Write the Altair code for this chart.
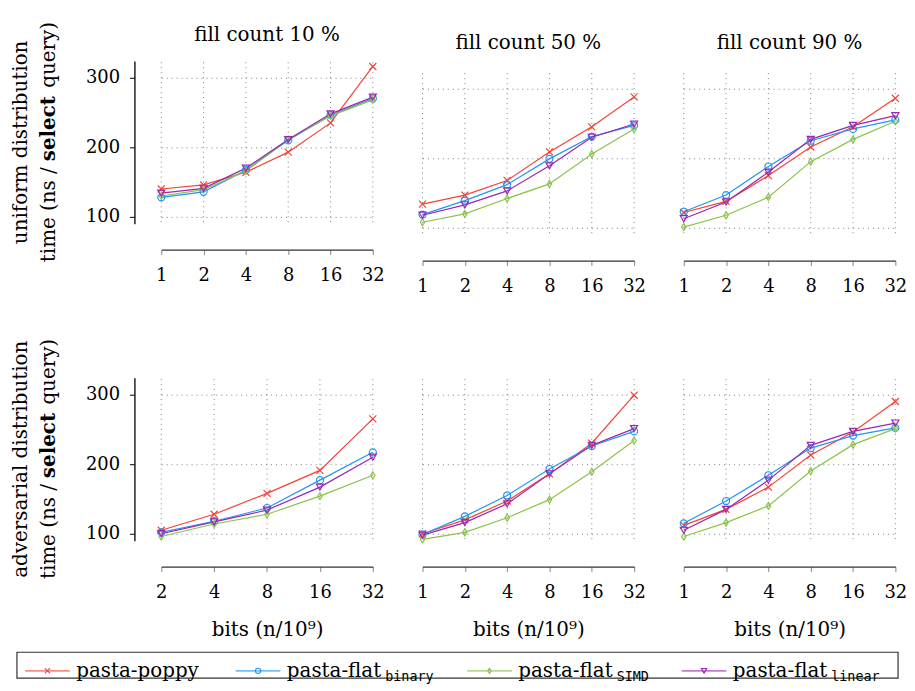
import altair as alt
import pandas as pd

SERIES = ["pasta-poppy", "pasta-flat_binary", "pasta-flat_SIMD", "pasta-flat_linear"]
LEG_MAIN = ["pasta-poppy", "pasta-flat", "pasta-flat", "pasta-flat"]
LEG_SUB = ["", "binary", "SIMD", "linear"]
COLORS = ["#f44336", "#2196f3", "#8bc34a", "#9c27b0"]
SHAPES = ["M-1,-1L1,1M-1,1L1,-1", "circle", "M0,-1L0.62,0L0,1L-0.62,0Z", "triangle-down"]

BITS_FULL = [1, 2, 4, 8, 16, 32]
BITS_ADV10 = [2, 4, 8, 16, 32]
Y_TICKS = [100, 200, 300]

# uniform distribution
UNI_10_POPPY = [140, 146, 164, 193, 235, 316]
UNI_10_BINARY = [128, 136, 167, 210, 246, 270]
UNI_10_SIMD = [130, 139, 166, 211, 245, 268]
UNI_10_LINEAR = [134, 141, 170, 211, 248, 272]

UNI_50_POPPY = [134, 147, 168, 209, 245, 288]
UNI_50_BINARY = [119, 139, 162, 199, 231, 247]
UNI_50_SIMD = [108, 120, 142, 163, 206, 242]
UNI_50_LINEAR = [118, 133, 153, 189, 230, 249]

UNI_90_POPPY = [122, 138, 175, 216, 245, 286]
UNI_90_BINARY = [123, 147, 188, 225, 242, 255]
UNI_90_SIMD = [101, 118, 144, 195, 227, 253]
UNI_90_LINEAR = [113, 137, 180, 227, 247, 261]

# adversarial distribution
ADV_10_POPPY = [105, 128, 158, 191, 265]
ADV_10_BINARY = [102, 118, 137, 177, 217]
ADV_10_SIMD = [96, 114, 128, 154, 184]
ADV_10_LINEAR = [100, 117, 134, 167, 210]

ADV_50_POPPY = [100, 120, 147, 186, 230, 299]
ADV_50_BINARY = [99, 125, 155, 193, 226, 247]
ADV_50_SIMD = [92, 102, 123, 149, 189, 234]
ADV_50_LINEAR = [98, 116, 143, 186, 227, 251]

ADV_90_POPPY = [112, 135, 167, 213, 246, 290]
ADV_90_BINARY = [115, 147, 184, 223, 241, 252]
ADV_90_SIMD = [96, 116, 140, 190, 228, 251]
ADV_90_LINEAR = [105, 135, 177, 227, 247, 259]

SERIF = "DejaVu Serif"
GRID_COLOR = "#4f6272"
W, H = 213, 164
Y_MIN, Y_MAX = 90, 324
GRID_TOP = 322
TITLE_COL_W = 54


def ytitle_col(first_line):
    """Two-line rotated axis title with a bold 'select'."""
    base = alt.Chart(pd.DataFrame({"a": [0]}))
    common = dict(angle=270, baseline="middle", font=SERIF, fontSize=20, color="black")
    l1 = base.mark_text(text=first_line, align="center", **common).encode(
        x=alt.value(13), y=alt.value(H / 2))
    p1 = base.mark_text(text="time (ns /", align="right", dx=-25, **common).encode(
        x=alt.value(41), y=alt.value(H / 2))
    p2 = base.mark_text(text="select", align="left", dx=-19, fontWeight="bold",
                        **common).encode(x=alt.value(41), y=alt.value(H / 2))
    p3 = base.mark_text(text="query)", align="left", dx=55, **common).encode(
        x=alt.value(41), y=alt.value(H / 2))
    return alt.layer(l1, p1, p2, p3).properties(width=TITLE_COL_W, height=H)


def panel(bits, series_values, title=None, shift=0, yaxis=False, xtitle=False):
    rows = []
    for si, (name, vals) in enumerate(zip(SERIES, series_values)):
        for b, v in zip(bits, vals):
            rows.append({"series": name, "k": si, "bits": b, "time": v})
    df = pd.DataFrame(rows)

    x_axis = alt.Axis(
        values=bits, format="d", offset=26, grid=False,
        domainColor="#333333", domainWidth=1.3, tickColor="#999999", tickSize=5,
        tickWidth=1.2, labelFont=SERIF, labelFontSize=18, labelColor="black",
        labelPadding=12, labelFlush=False,
        title="bits (n/10⁹)" if xtitle else None,
        titleFont=SERIF, titleFontSize=20, titleFontWeight="normal",
        titleColor="black", titlePadding=18,
    )
    if yaxis:
        y_axis = alt.Axis(
            values=Y_TICKS, offset=27, grid=True, gridDash=[1, 4],
            gridColor=GRID_COLOR, gridOpacity=0.8, gridWidth=1,
            domainColor="black", domainWidth=1.3, tickColor="black", tickSize=5,
            labelFont=SERIF, labelFontSize=18, labelColor="black", labelPadding=10,
            title=None,
        )
    else:
        y_axis = alt.Axis(values=Y_TICKS, grid=True, gridDash=[1, 4],
                          gridColor=GRID_COLOR, gridOpacity=0.8, gridWidth=1,
                          labels=False, ticks=False, domain=False, title=None)

    x = alt.X("bits:Q", scale=alt.Scale(type="log", base=2, domain=[bits[0], bits[-1]]), axis=x_axis)
    y = alt.Y("time:Q", scale=alt.Scale(domain=[Y_MIN, Y_MAX], nice=False, zero=False,
                                        range=[H + shift, shift]), axis=y_axis)
    color = alt.Color("series:N", scale=alt.Scale(domain=SERIES, range=COLORS), legend=None)
    shape = alt.Shape("series:N", scale=alt.Scale(domain=SERIES, range=SHAPES), legend=None)

    base = alt.Chart(df)
    grid = alt.Chart(pd.DataFrame({"bits": bits})).mark_rule(
        strokeDash=[1, 4], color=GRID_COLOR, opacity=0.8, strokeWidth=1).encode(
        x=alt.X("bits:Q"), y=alt.datum(GRID_TOP), y2=alt.datum(Y_MIN))
    line = base.mark_line(strokeWidth=1.2).encode(x=x, y=y, color=color, order="bits:Q")
    pts = base.mark_point(filled=False, strokeWidth=1.2, size=50, opacity=1).encode(
        x=x, y=y, color=color, shape=shape, order="k:Q")
    ch = alt.layer(line, grid, pts).properties(width=W, height=H + shift)
    if title is not None:
        ch = ch.properties(title=alt.TitleParams(
            text=title, font=SERIF, fontSize=20, fontWeight="normal", color="black",
            anchor="middle", offset=16, dy=max(shift - 3, 0)))
    return ch


row1 = alt.hconcat(
    alt.hconcat(
        ytitle_col("uniform distribution"),
        panel(BITS_FULL, [UNI_10_POPPY, UNI_10_BINARY, UNI_10_SIMD, UNI_10_LINEAR],
              title="fill count 10 %", yaxis=True),
        spacing=23),
    panel(BITS_FULL, [UNI_50_POPPY, UNI_50_BINARY, UNI_50_SIMD, UNI_50_LINEAR],
          title="fill count 50 %", shift=11),
    panel(BITS_FULL, [UNI_90_POPPY, UNI_90_BINARY, UNI_90_SIMD, UNI_90_LINEAR],
          title="fill count 90 %", shift=11),
    spacing=32,
)
row2 = alt.hconcat(
    alt.hconcat(
        ytitle_col("adversarial distribution"),
        panel(BITS_ADV10, [ADV_10_POPPY, ADV_10_BINARY, ADV_10_SIMD, ADV_10_LINEAR],
              yaxis=True, xtitle=True),
        spacing=23),
    panel(BITS_FULL, [ADV_50_POPPY, ADV_50_BINARY, ADV_50_SIMD, ADV_50_LINEAR], xtitle=True),
    panel(BITS_FULL, [ADV_90_POPPY, ADV_90_BINARY, ADV_90_SIMD, ADV_90_LINEAR], xtitle=True),
    spacing=32,
)

# custom legend (line + marker, name with monospace subscript)
LEG_Y = 19
leg_df = pd.DataFrame({"series": SERIES, "idx": list(range(len(SERIES))),
                       "main": LEG_MAIN, "sub": LEG_SUB})
lx = alt.X("idx:Q", scale=alt.Scale(domain=[0, 1, 2, 3], range=[31, 243, 476, 692]), axis=None)
lcolor = alt.Color("series:N", scale=alt.Scale(domain=SERIES, range=COLORS), legend=None)
lshape = alt.Shape("series:N", scale=alt.Scale(domain=SERIES, range=SHAPES), legend=None)
lbase = alt.Chart(leg_df)
leg_line = lbase.mark_point(shape="M-1,0L1,0", size=2025, filled=False, strokeWidth=1.6, opacity=0.6).encode(
    x=lx, y=alt.value(LEG_Y), color=lcolor)
leg_pt = lbase.mark_point(filled=False, strokeWidth=1.1, size=28, opacity=1).encode(
    x=lx, y=alt.value(LEG_Y), color=lcolor, shape=lshape)
leg_txt = lbase.mark_text(align="left", baseline="middle", dx=29, dy=0, font=SERIF, fontSize=20,
                          color="black").encode(x=lx, y=alt.value(LEG_Y), text="main:N")
leg_sub = lbase.mark_text(align="left", baseline="middle", dx=128, dy=6, font="DejaVu Sans Mono",
                          fontSize=13.5, color="black").encode(x=lx, y=alt.value(LEG_Y), text="sub:N")
legend = alt.layer(leg_line, leg_pt, leg_txt, leg_sub).properties(
    width=887, height=26, view=alt.ViewBackground(stroke="#333333", strokeWidth=1.2))

plots = alt.vconcat(row1, row2, spacing=43)
chart = alt.vconcat(plots, legend, spacing=12, center=True).configure_view(stroke=None).properties(
    padding={"left": 0, "top": 11, "right": 0, "bottom": 0})

chart.save("out.html", embed_options={"renderer": "svg", "actions": False})
